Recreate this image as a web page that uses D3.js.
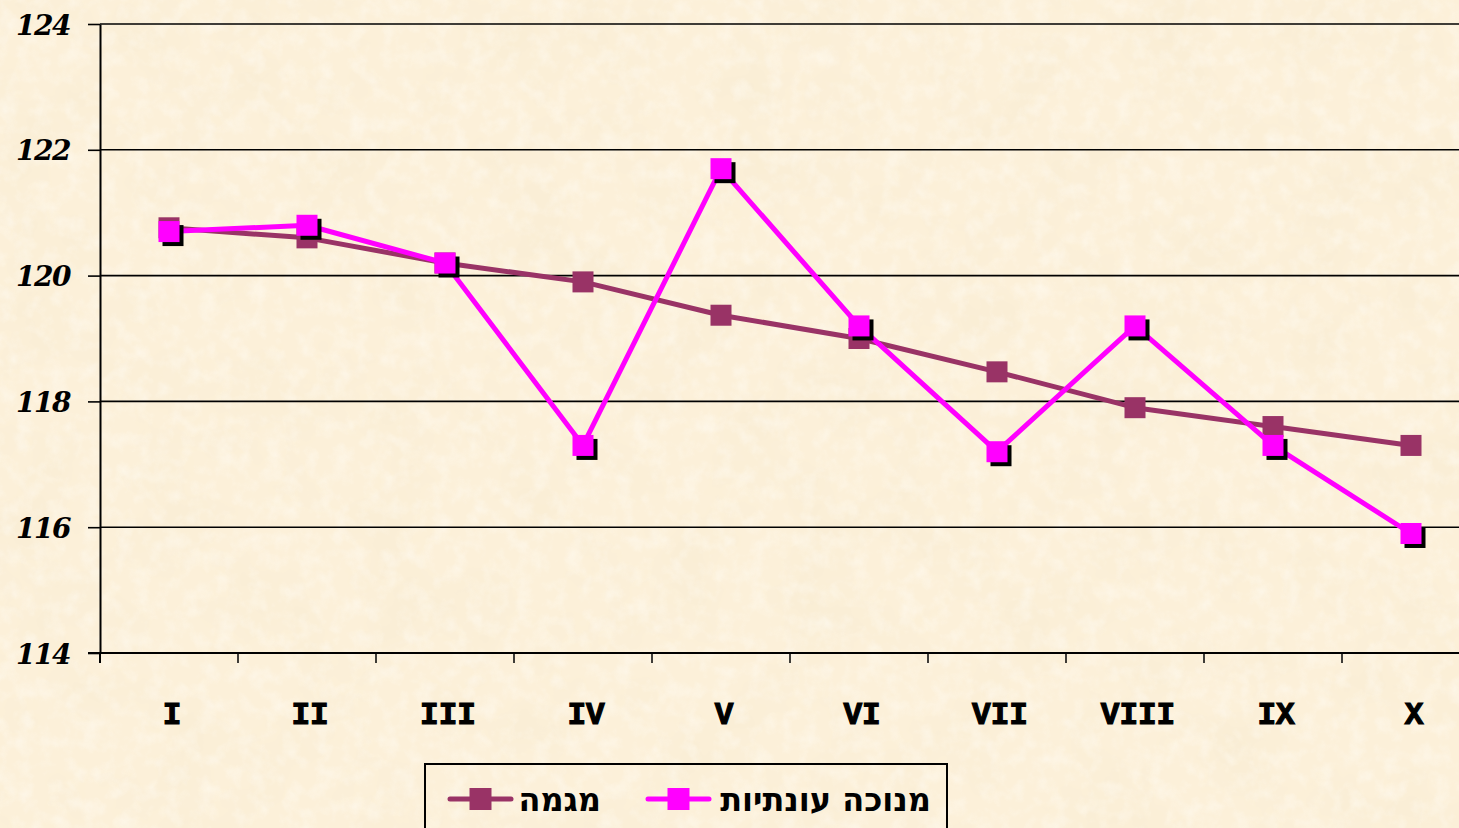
<!DOCTYPE html>
<html>
<head>
<meta charset="utf-8">
<script src="https://cdn.jsdelivr.net/npm/d3@7"></script>
<style>
  html, body { margin: 0; padding: 0; overflow: hidden; background: #fcf0d9; }
  svg { display: block; }
</style>
</head>
<body>
<svg id="chart" width="1459" height="828"></svg>
<script>
// Quarters (Roman numerals) along the horizontal axis
const categories = ["I", "II", "III", "IV", "V", "VI", "VII", "VIII", "IX", "X"];
// Trend series
const trendValues = [120.76, 120.6, 120.2, 119.9, 119.37, 119.0, 118.47, 117.9, 117.6, 117.3];
// Seasonally adjusted series
const adjustedValues = [120.7, 120.8, 120.2, 117.3, 121.7, 119.2, 117.2, 119.2, 117.3, 115.9];
const yTicks = [114, 116, 118, 120, 122, 124];
const seriesNames = ["מגמה", "מנוכה עונתיות"];

const W = 1459, H = 828;
const svg = d3.select("#chart");

// Parchment-like mottled background
const defs = svg.append("defs");
const f = defs.append("filter").attr("id", "paper")
  .attr("x", 0).attr("y", 0).attr("width", "100%").attr("height", "100%");
f.append("feTurbulence").attr("type", "fractalNoise")
  .attr("baseFrequency", "0.014").attr("numOctaves", 4).attr("seed", 7).attr("result", "n");
f.append("feColorMatrix").attr("in", "n").attr("type", "matrix")
  .attr("values", "0 0 0 0 0.94  0 0 0 0 0.84  0 0 0 0 0.65  1.5 0 0 0 -0.64");
const f2 = defs.append("filter").attr("id", "speck")
  .attr("x", 0).attr("y", 0).attr("width", "100%").attr("height", "100%");
f2.append("feTurbulence").attr("type", "fractalNoise")
  .attr("baseFrequency", "0.06").attr("numOctaves", 3).attr("seed", 3).attr("result", "n");
f2.append("feColorMatrix").attr("in", "n").attr("type", "matrix")
  .attr("values", "0 0 0 0 1  0 0 0 0 0.98  0 0 0 0 0.93  1.6 0 0 0 -0.68");

svg.append("rect").attr("width", W).attr("height", H).attr("fill", "#fcf0d9");
svg.append("rect").attr("width", W).attr("height", H).attr("filter", "url(#paper)");
svg.append("rect").attr("width", W).attr("height", H).attr("filter", "url(#speck)").attr("opacity", 0.6);

// Scales
const x = d3.scaleBand().domain(categories).range([100, 1480]);
const y = d3.scaleLinear().domain([114, 124]).range([653, 24]);

// Horizontal gridlines
svg.append("g").selectAll("line")
  .data(yTicks.filter(t => t !== 114))
  .join("line")
  .attr("x1", 100).attr("x2", W)
  .attr("y1", d => y(d)).attr("y2", d => y(d))
  .attr("stroke", "#000").attr("stroke-width", 1.6);

// Y axis
const yAxis = svg.append("g").attr("transform", "translate(100,0)")
  .call(d3.axisLeft(y).tickValues(yTicks).tickSize(12).tickSizeOuter(0).tickPadding(18));
yAxis.select(".domain").attr("stroke", "#000").attr("stroke-width", 2);
yAxis.selectAll(".tick line").attr("stroke", "#000").attr("stroke-width", 1.6);
yAxis.selectAll(".tick text")
  .attr("font-family", "'DejaVu Serif', serif")
  .attr("font-style", "italic").attr("font-weight", "bold")
  .attr("font-size", 28).attr("fill", "#000")
  .attr("letter-spacing", -1.5)
  .attr("dy", "0.36em");

// X axis baseline with ticks at category boundaries
const xg = svg.append("g");
xg.append("line").attr("x1", 88).attr("x2", W)
  .attr("y1", y(114)).attr("y2", y(114))
  .attr("stroke", "#000").attr("stroke-width", 2);
xg.selectAll("line.tk").data(categories.slice(1)).join("line").attr("class", "tk")
  .attr("x1", d => x(d)).attr("x2", d => x(d))
  .attr("y1", y(114)).attr("y2", y(114) + 10)
  .attr("stroke", "#000").attr("stroke-width", 1.5);
xg.append("line").attr("x1", 100).attr("x2", 100)
  .attr("y1", y(114)).attr("y2", y(114) + 10)
  .attr("stroke", "#000").attr("stroke-width", 2);
xg.selectAll("text").data(categories).join("text")
  .attr("x", d => x(d) + x.bandwidth() / 2 + 3)
  .attr("y", 724)
  .attr("text-anchor", "middle")
  .attr("font-family", "'Liberation Mono', 'Courier New', monospace")
  .attr("font-weight", "bold").attr("font-size", 31)
  .attr("fill", "#000").attr("stroke", "#000").attr("stroke-width", 1.2)
  .text(d => d);

// Series lines and markers
const cx = d => x(d) + x.bandwidth() / 2;
const line = d3.line().x(d => cx(d.c)).y(d => y(d.v));
const series = [
  { name: seriesNames[0], color: "#993366", values: trendValues, shadow: false },
  { name: seriesNames[1], color: "#ff00ff", values: adjustedValues, shadow: true }
];
const M = 21;

series.forEach(s => {
  const pts = categories.map((c, i) => ({ c, v: s.values[i] }));
  const g = svg.append("g");
  g.append("path").datum(pts).attr("d", line)
    .attr("fill", "none").attr("stroke", s.color).attr("stroke-width", 5)
    .attr("stroke-linejoin", "round").attr("stroke-linecap", "round");
  if (s.shadow) {
    g.selectAll("rect.sh").data(pts).join("rect").attr("class", "sh")
      .attr("x", d => cx(d.c) - M / 2 + 4).attr("y", d => y(d.v) - M / 2 + 4)
      .attr("width", M).attr("height", M).attr("fill", "#000");
  }
  g.selectAll("rect.mk").data(pts).join("rect").attr("class", "mk")
    .attr("x", d => cx(d.c) - M / 2).attr("y", d => y(d.v) - M / 2)
    .attr("width", M).attr("height", M).attr("fill", s.color);
});

// Legend
const lg = svg.append("g");
lg.append("rect").attr("x", 425).attr("y", 764).attr("width", 522).attr("height", 80)
  .attr("fill", "none").attr("stroke", "#000").attr("stroke-width", 2);
const legendItems = [
  { s: series[0], lx1: 450, lx2: 511, tx: 601 },
  { s: series[1], lx1: 648, lx2: 709, tx: 931 }
];
legendItems.forEach(it => {
  const cy = 799;
  lg.append("line").attr("x1", it.lx1).attr("x2", it.lx2).attr("y1", cy).attr("y2", cy)
    .attr("stroke", it.s.color).attr("stroke-width", 5).attr("stroke-linecap", "round");
  const mx = (it.lx1 + it.lx2) / 2;
  lg.append("rect").attr("x", mx - 11).attr("y", cy - 11).attr("width", 22).attr("height", 22)
    .attr("fill", it.s.color);
  lg.append("text").attr("x", it.tx).attr("y", cy + 12)
    .attr("text-anchor", "end")
    .attr("font-family", "'DejaVu Sans', sans-serif")
    .attr("font-weight", "bold").attr("font-size", 32).attr("fill", "#000")
    .text(it.s.name);
});
</script>
</body>
</html>
